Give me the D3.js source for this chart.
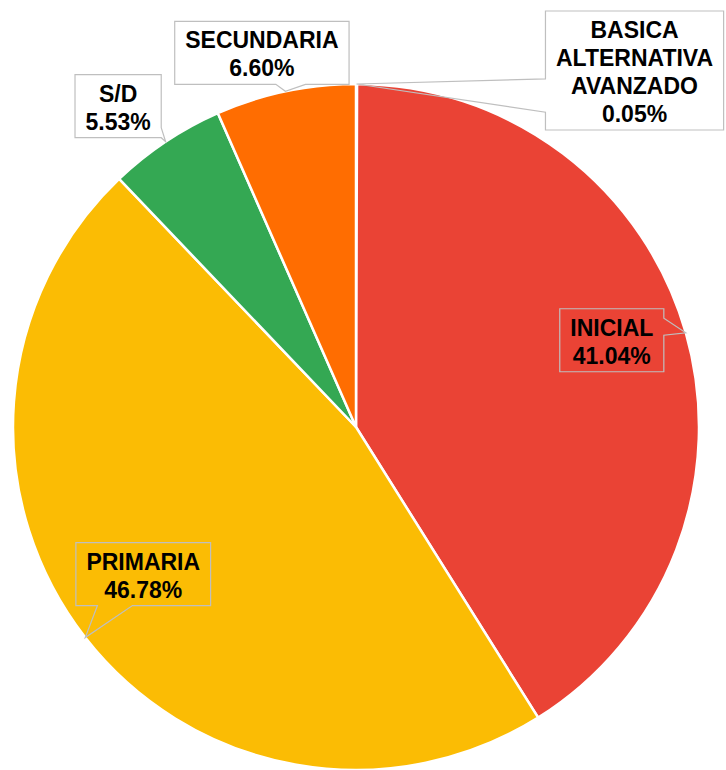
<!DOCTYPE html>
<html>
<head>
<meta charset="utf-8">
<script src="https://cdn.jsdelivr.net/npm/d3@7"></script>
<style>
  body { margin: 0; background: #fff; }
</style>
</head>
<body>
<div id="pie_chart"></div>
<script>
// chart data (order as in the source sheet, drawn clockwise from 12 o'clock)
var categories = ["BASICA ALTERNATIVA AVANZADO", "INICIAL", "PRIMARIA", "S/D", "SECUNDARIA"];
var percents = [0.05, 41.04, 46.78, 5.53, 6.60];
var colors = ["#4285f4", "#ea4335", "#fbbc04", "#34a853", "#ff6d01"];

// callout placement: box centre offset from the slice tip, side of the pointer, pointer base (fraction of side)
var callouts = [
    { dx: 278, dy: -13.5, side: "left", base: [0.57, 0.85] },
    { dx: -74, dy: 7.5, side: "right", base: [0.15, 0.42] },
    { dx: 58, dy: -63.5, side: "bottom", base: [0.16, 0.42] },
    { dx: -47.5, dy: -35.5, side: "right", base: [0.84, 1.0] },
    { dx: -23.5, dy: -38.5, side: "bottom", base: [0.58, 0.75] }
];

var width = 726, height = 770;
var cx = 356, cy = 427, radius = 343;
var lineHeight = 28, padX = 10.5;

var svg = d3.select("#pie_chart")
    .append("svg")
    .attr("width", width)
    .attr("height", height);

var data = categories.map(function (c, i) {
    return { name: c, value: percents[i], color: colors[i], callout: callouts[i] };
});

var pie = d3.pie()
    .sort(null)
    .value(function (d) { return d.value; });

var arc = d3.arc()
    .innerRadius(0)
    .outerRadius(radius);

var arcs = pie(data);

var g = svg.append("g")
    .attr("transform", "translate(" + cx + "," + cy + ")");

// slices
g.selectAll("path.slice")
    .data(arcs)
    .enter()
    .append("path")
    .attr("class", "slice")
    .attr("d", arc)
    .attr("fill", function (d) { return d.data.color; })
    .attr("stroke", "#fff")
    .attr("stroke-width", 2.5);

// builds the box outline with a wedge pointing at the tip
function calloutPath(x0, y0, x1, y1, side, base, tip) {
    var w = x1 - x0, h = y1 - y0;
    var p = d3.path();
    p.moveTo(x0, y0);
    if (side == "top") {
        p.lineTo(x0 + base[0] * w, y0);
        p.lineTo(tip[0], tip[1]);
        p.lineTo(x0 + base[1] * w, y0);
    }
    p.lineTo(x1, y0);
    if (side == "right") {
        p.lineTo(x1, y0 + base[0] * h);
        p.lineTo(tip[0], tip[1]);
        p.lineTo(x1, y0 + base[1] * h);
    }
    p.lineTo(x1, y1);
    if (side == "bottom") {
        p.lineTo(x0 + base[1] * w, y1);
        p.lineTo(tip[0], tip[1]);
        p.lineTo(x0 + base[0] * w, y1);
    }
    p.lineTo(x0, y1);
    if (side == "left") {
        p.lineTo(x0, y0 + base[1] * h);
        p.lineTo(tip[0], tip[1]);
        p.lineTo(x0, y0 + base[0] * h);
    }
    p.closePath();
    return p.toString();
}

// callout labels
arcs.forEach(function (d) {
    var mid = (d.startAngle + d.endAngle) / 2;
    var tip = [radius * Math.sin(mid), -radius * Math.cos(mid)];
    var c = d.data.callout;
    var lines = d.data.name.split(" ").concat([d.data.value.toFixed(2) + "%"]);

    var label = g.append("g").attr("class", "callout");
    var box = label.append("path");

    var bx = tip[0] + c.dx, by = tip[1] + c.dy;
    var boxH = lines.length * lineHeight + 7;
    var top = by - boxH / 2;

    var text = label.append("text")
        .attr("text-anchor", "middle")
        .style("font-family", "'Liberation Sans', Arial, sans-serif")
        .style("font-weight", "bold")
        .style("font-size", "23px")
        .attr("fill", "#000");

    var maxW = 0;
    lines.forEach(function (t, i) {
        var ts = text.append("tspan")
            .attr("x", bx)
            .attr("y", top + 27 + i * lineHeight)
            .text(t);
        maxW = Math.max(maxW, ts.node().getComputedTextLength());
    });

    var boxW = maxW + 2 * padX;
    box.attr("d", calloutPath(bx - boxW / 2, top, bx + boxW / 2, top + boxH, c.side, c.base, tip))
        .attr("fill", "none")
        .attr("stroke", "#bfbfbf")
        .attr("stroke-width", 1.2);
});
</script>
</body>
</html>
